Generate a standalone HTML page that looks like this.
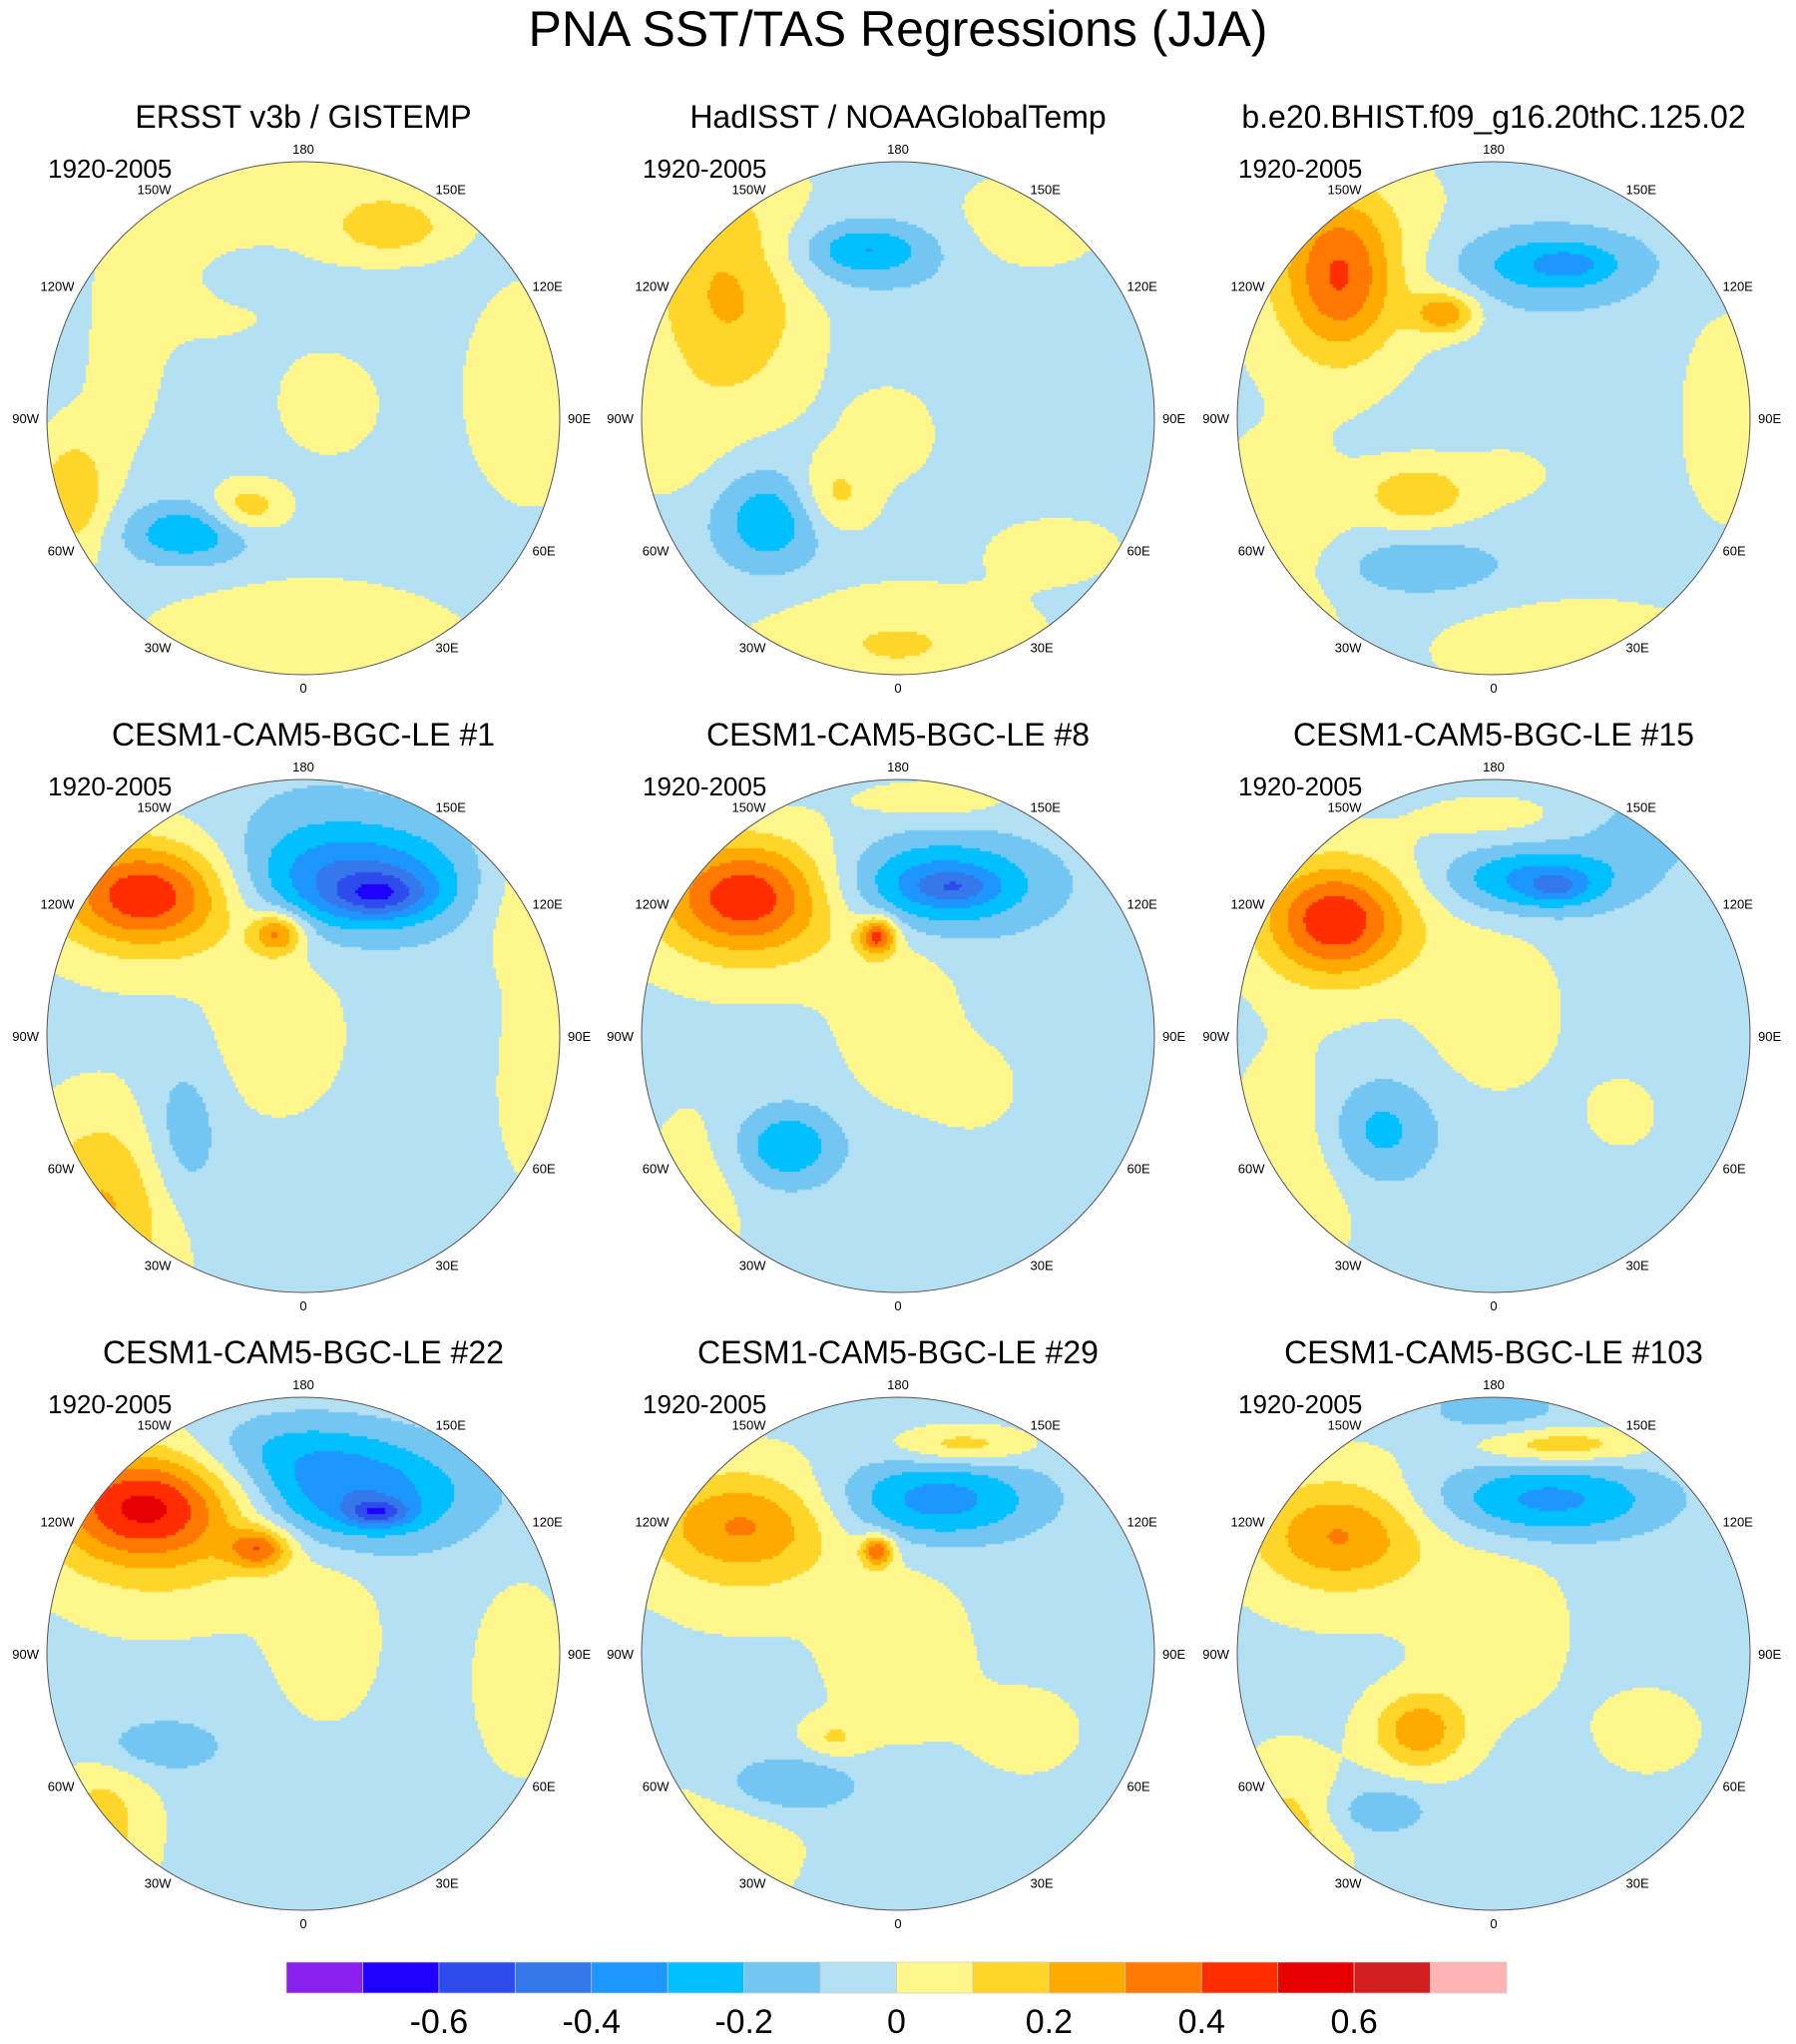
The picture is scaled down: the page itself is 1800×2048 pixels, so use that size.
<!DOCTYPE html>
<html>
<head>
<meta charset="utf-8">
<style>
  html,body{margin:0;padding:0;background:#fff;}
  #root{position:relative;width:1800px;height:2048px;overflow:hidden;font-family:"Liberation Sans",sans-serif;}
  canvas{position:absolute;}
  svg{position:absolute;left:0;top:0;}
</style>
</head>
<body>
<div id="root">
<svg id="ov" width="1800" height="2048">
  <text x="900" y="46" font-size="50" text-anchor="middle" font-family="Liberation Sans, sans-serif">PNA SST/TAS Regressions (JJA)</text>
</svg>
</div>
<script>
// ---- data ----
const levels = [-0.7,-0.6,-0.5,-0.4,-0.3,-0.2,-0.1,0,0.1,0.2,0.3,0.4,0.5,0.6,0.7];
const colors = ["#8a20ee","#1e00ff","#2e4ced","#3478eb","#1e96ff","#00c0ff","#74c6f2","#b4e0f4","#fff68c","#ffd52a","#ffaa00","#ff7800","#ff2d00","#e60000","#d21e1e","#ffb4b4"];
const tickLabels = ["-0.6","-0.4","-0.2","0","0.2","0.4","0.6"];
const tickValues = [-0.6,-0.4,-0.2,0,0.2,0.4,0.6];
const panelTitles = ["ERSST v3b / GISTEMP","HadISST / NOAAGlobalTemp","b.e20.BHIST.f09_g16.20thC.125.02","CESM1-CAM5-BGC-LE #1","CESM1-CAM5-BGC-LE #8","CESM1-CAM5-BGC-LE #15","CESM1-CAM5-BGC-LE #22","CESM1-CAM5-BGC-LE #29","CESM1-CAM5-BGC-LE #103"];
const lonLabels = ["0","30E","60E","90E","120E","150E","180","150W","120W","90W","60W","30W"];
const lonValues = [0,30,60,90,120,150,180,210,240,270,300,330];
const baseValues = [-0.04,-0.03,-0.03,-0.04,-0.04,-0.04,-0.04,-0.03,-0.03];
// blobs: [u, v, rx, value, ry] in normalized disk coords
const blobs0 = [[-0.4,-0.6,0.4,0.1,0.3],[0.34,-0.74,0.25,0.2,0.12],[-0.24,-0.56,0.18,-0.12,0.1],[0,0.9,0.6,0.14,0.25],[0.9,-0.1,0.25,0.14,0.4],[-0.9,0.3,0.15,0.22,0.25],[-0.45,0.45,0.25,-0.25,0.12],[-0.22,0.35,0.15,0.22,0.1],[0.1,-0.05,0.2,0.1,0.2],[0.2,-0.95,0.4,0.08,0.15],[-0.7,-0.15,0.15,0.08,0.3]];
const blobs1 = [[-0.66,-0.5,0.3,0.25,0.45],[-0.15,-0.64,0.35,-0.16,0.15],[-0.12,-0.66,0.2,-0.12,0.08],[0.5,-0.75,0.3,0.1,0.2],[0.46,-0.1,0.5,-0.05,0.5],[-0.5,0.4,0.22,-0.25,0.2],[-0.25,0.3,0.15,0.18,0.15],[0,0.88,0.5,0.14,0.2],[-0.9,0.1,0.2,0.08,0.2],[0,0.05,0.2,0.1,0.2],[0.6,0.5,0.3,0.08,0.15]];
const blobs2 = [[-0.6,-0.6,0.4,0.15,0.4],[-0.6,-0.55,0.2,0.3,0.3],[0.2,-0.6,0.4,-0.22,0.15],[0.3,-0.6,0.15,-0.12,0.06],[-0.19,-0.41,0.12,0.3,0.08],[0.26,0,0.5,-0.05,0.5],[-0.3,0.3,0.2,0.22,0.12],[-0.3,0.58,0.35,-0.15,0.12],[-0.85,0.5,0.3,0.1,0.4],[0.3,0.9,0.5,0.1,0.2],[0.9,0,0.2,0.1,0.4],[0.1,0.2,0.3,0.08,0.2]];
const blobs3 = [[-0.62,-0.55,0.3,0.35,0.18],[-0.55,-0.55,0.5,0.2,0.3],[0.2,-0.6,0.45,-0.35,0.2],[0.3,-0.55,0.18,-0.25,0.08],[0,-0.75,0.5,-0.1,0.3],[-0.1,-0.4,0.1,0.35,0.08],[-0.1,0,0.25,0.12,0.3],[-0.47,0.4,0.15,-0.15,0.3],[-0.78,0.68,0.3,0.25,0.4],[0.85,-0.55,0.2,0.12,0.3],[0.9,0.2,0.15,0.1,0.4]];
const blobs4 = [[-0.6,-0.55,0.3,0.35,0.2],[-0.55,-0.5,0.5,0.18,0.3],[0.15,-0.59,0.4,-0.35,0.18],[0.22,-0.58,0.15,-0.15,0.06],[-0.08,-0.39,0.07,0.45,0.07],[0,-0.05,0.22,0.12,0.3],[-0.43,0.43,0.2,-0.25,0.15],[0.15,-0.92,0.3,0.1,0.08],[-0.8,0.65,0.2,0.1,0.4],[0.3,0.2,0.2,0.07,0.2]];
const blobs5 = [[-0.62,-0.45,0.25,0.35,0.2],[-0.6,-0.45,0.4,0.18,0.3],[0.16,-0.61,0.35,-0.3,0.13],[0.25,-0.58,0.12,-0.15,0.06],[0,-0.1,0.25,0.12,0.3],[-0.45,0.37,0.22,-0.2,0.2],[-0.8,0.55,0.25,0.14,0.45],[0,-0.85,0.3,0.08,0.1],[0.6,-0.8,0.25,-0.1,0.15],[0.5,0.3,0.2,0.06,0.2]];
const blobs6 = [[-0.62,-0.58,0.35,0.4,0.2],[-0.55,-0.5,0.5,0.2,0.35],[-0.17,-0.41,0.12,0.35,0.08],[0.19,-0.62,0.45,-0.35,0.2],[0.29,-0.55,0.12,-0.3,0.05],[-0.1,-0.8,0.4,-0.15,0.15],[0.09,-0.05,0.2,0.12,0.3],[-0.62,0.36,0.3,-0.15,0.12],[-0.78,0.66,0.2,0.18,0.35],[0.85,0.1,0.2,0.1,0.4]];
const blobs7 = [[-0.61,-0.51,0.35,0.2,0.18],[-0.6,-0.45,0.4,0.15,0.3],[0.15,-0.6,0.4,-0.32,0.16],[0.25,-0.81,0.25,0.2,0.07],[0,0,0.25,0.12,0.3],[-0.46,0.51,0.3,-0.2,0.12],[-0.7,0.7,0.3,0.12,0.3],[-0.25,0.33,0.12,0.14,0.08],[-0.08,-0.4,0.06,0.4,0.06],[0.5,0.3,0.25,0.06,0.2]];
const blobs8 = [[-0.6,-0.46,0.3,0.2,0.18],[-0.6,-0.46,0.4,0.14,0.3],[0.21,-0.6,0.45,-0.3,0.15],[0.26,-0.81,0.3,0.22,0.07],[0,-0.95,0.3,-0.12,0.1],[0,-0.1,0.25,0.12,0.3],[-0.29,0.3,0.18,0.3,0.15],[-0.45,0.61,0.2,-0.15,0.1],[-0.8,0.72,0.2,0.18,0.3],[0.6,0.3,0.25,0.06,0.2]];
const panelBlobs = [blobs0,blobs1,blobs2,blobs3,blobs4,blobs5,blobs6,blobs7,blobs8];

// ---- layout ----
const colX = [304,900,1497], rowY = [419,1038,1657], R = 257;
const root = document.getElementById('root');
const ov = document.getElementById('ov');
const NS = "http://www.w3.org/2000/svg";
function colorFor(v){let i=0;while(i<levels.length && v>=levels[i]) i++;return colors[i];}
function fieldAt(b,base,u,v){let s=base;for(const q of b){const ry=q[4]||q[2];const dx=(u-q[0])/q[2],dy=(v-q[1])/ry;s+=q[3]*Math.exp(-(dx*dx+dy*dy));}return s;}
function svgEl(tag,attrs){const e=document.createElementNS(NS,tag);for(const k in attrs)e.setAttribute(k,attrs[k]);return e;}

for(let p=0;p<9;p++){
  const cx=colX[p%3], cy=rowY[Math.floor(p/3)];
  const cv=document.createElement('canvas');
  cv.width=2*R; cv.height=2*R;
  cv.style.left=(cx-R)+'px'; cv.style.top=(cy-R)+'px';
  
  
  const ctx=cv.getContext('2d');
  ctx.save();ctx.beginPath();ctx.arc(R,R,R,0,2*Math.PI);ctx.clip();
  const step=3;
  for(let y=0;y<2*R;y+=step){for(let x=0;x<2*R;x+=step){
    const u=(x+step/2-R)/R, v=(y+step/2-R)/R;
    if(u*u+v*v>1.02) continue;
    ctx.fillStyle=colorFor(fieldAt(panelBlobs[p],baseValues[p],u,v));
    ctx.fillRect(x,y,step,step);
  }}
  ctx.restore();
  root.insertBefore(cv, ov);
  const circ=svgEl('circle',{cx:cx,cy:cy,r:R,fill:'none',stroke:'#555','stroke-width':1});
  
  
  ov.appendChild(circ);
  const t=svgEl('text',{x:cx,y:cy-R-34,'font-size':32,'text-anchor':'middle'});
  t.textContent=panelTitles[p];
  
  
  ov.appendChild(t);
  const per=svgEl('text',{x:cx-256,y:cy-R+16,'font-size':26});
  per.textContent="1920-2005";
  
  
  ov.appendChild(per);
  for(let i=0;i<lonValues.length;i++){
    const a=lonValues[i]*Math.PI/180;
    const polar=(lonValues[i]%180===0);
    const rr=polar?R+13:R+8;
    const lx=cx+rr*Math.sin(a), ly=cy+rr*Math.cos(a);
    const anchor=polar?'middle':(lonValues[i]<180?'start':'end');
    const l=svgEl('text',{x:lx,y:ly+5,'font-size':13,'text-anchor':anchor});
    l.textContent=lonLabels[i];
    
    
    ov.appendChild(l);
  }
}
// colorbar
const cbX=287, cbW=1223, cbY=1966, cbH=31, bw=cbW/colors.length;
for(let i=0;i<colors.length;i++){
  const r=svgEl('rect',{x:cbX+i*bw,y:cbY,width:bw,height:cbH,fill:colors[i],stroke:'#ccc','stroke-width':0.7});
  
  
  ov.appendChild(r);
}
function cbPos(v){return cbX+bw*(1+(v-levels[0])/0.1);}
for(let i=0;i<tickValues.length;i++){
  const t=svgEl('text',{x:cbPos(tickValues[i]),y:2037,'font-size':34,'text-anchor':'middle'});
  t.textContent=tickLabels[i];
  
  
  ov.appendChild(t);
}
</script>
</body>
</html>
